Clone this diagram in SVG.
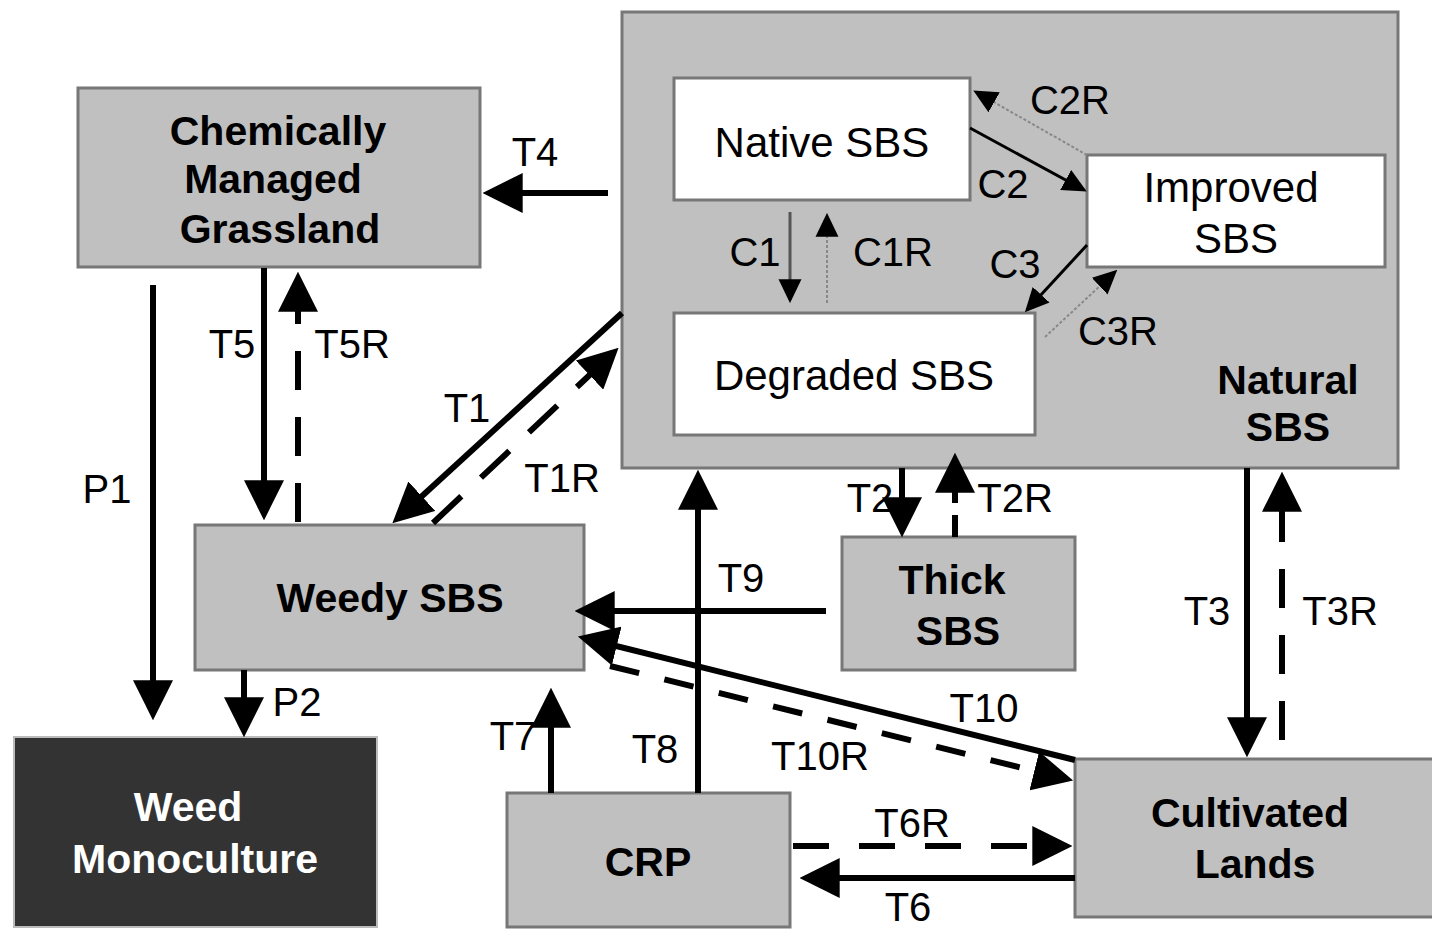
<svg xmlns="http://www.w3.org/2000/svg" width="1432" height="930" viewBox="0 0 1432 930">
<style>
.box{fill:#c0c0c0;stroke:#777;stroke-width:3}
.wbox{fill:#fff;stroke:#777;stroke-width:3}
.dbox{fill:#333;stroke:#bbb;stroke-width:2}
.nt{font-family:"Liberation Sans",Arial,sans-serif;font-size:42px;fill:#000;text-anchor:middle}
.bt{font-family:"Liberation Sans",Arial,sans-serif;font-size:41px;font-weight:bold;fill:#000;text-anchor:middle}
.wt{fill:#fff}
.lb{font-family:"Liberation Sans",Arial,sans-serif;font-size:40px;fill:#000;text-anchor:middle}
.th{stroke:#000;stroke-width:6;fill:none}
.dash{stroke-dasharray:39 27}
.tn{stroke:#000;stroke-width:3;fill:none}
.dot{stroke:#888;stroke-width:2;stroke-dasharray:3 2;fill:none}
</style>
<defs>
<marker id="ah" markerUnits="userSpaceOnUse" markerWidth="40" markerHeight="40" viewBox="0 0 38 38" refX="32" refY="19" orient="auto"><path d="M0,0 L38,19 L0,38 z" fill="#000"/></marker>
<marker id="as" markerUnits="userSpaceOnUse" markerWidth="24" markerHeight="24" viewBox="0 0 23 22" refX="20" refY="11" orient="auto"><path d="M0,0 L23,11 L0,22 z" fill="#000"/></marker>
</defs>

<g id="natural">
<rect class="box" x="622" y="12" width="776" height="456"/>
<text class="bt" x="1288" y="394">Natural</text>
<text class="bt" x="1288" y="441">SBS</text>
</g>
<g id="native"><rect class="wbox" x="674" y="78" width="296" height="122"/><text class="nt" x="822" y="157">Native SBS</text></g>
<g id="improved"><rect class="wbox" x="1087" y="155" width="298" height="112"/><text class="nt" x="1231" y="202">Improved</text><text class="nt" x="1236" y="253">SBS</text></g>
<g id="degraded"><rect class="wbox" x="674" y="313" width="361" height="122"/><text class="nt" x="854" y="390">Degraded SBS</text></g>
<g id="chem"><rect class="box" x="78" y="88" width="402" height="179"/><text class="bt" x="278" y="145">Chemically</text><text class="bt" x="273" y="193">Managed</text><text class="bt" x="280" y="243">Grassland</text></g>
<g id="weedy"><rect class="box" x="195" y="525" width="389" height="145"/><text class="bt" x="390" y="612">Weedy SBS</text></g>
<g id="mono"><rect class="dbox" x="14" y="737" width="363" height="190"/><text class="bt wt" x="188" y="821">Weed</text><text class="bt wt" x="195" y="873">Monoculture</text></g>
<g id="crp"><rect class="box" x="507" y="793" width="283" height="134"/><text class="bt" x="648" y="876">CRP</text></g>
<g id="thick"><rect class="box" x="842" y="537" width="233" height="133"/><text class="bt" x="952" y="594">Thick</text><text class="bt" x="958" y="645">SBS</text></g>
<g id="cult"><rect class="box" x="1075" y="759" width="360" height="158"/><text class="bt" x="1250" y="827">Cultivated</text><text class="bt" x="1255" y="878">Lands</text></g>

<g id="connectors">
<line class="th" x1="608" y1="193" x2="489" y2="193" marker-end="url(#ah)"/>
<line class="th" x1="264" y1="268" x2="264" y2="514" marker-end="url(#ah)"/>
<line class="th dash" x1="298" y1="522" x2="298" y2="278" marker-end="url(#ah)"/>
<line class="th" x1="153" y1="285" x2="153" y2="714" marker-end="url(#ah)"/>
<line class="th" x1="244" y1="670" x2="244" y2="731" marker-end="url(#ah)"/>
<line class="th" x1="622" y1="313" x2="397" y2="519" marker-end="url(#ah)"/>
<line class="th dash" x1="433" y1="523" x2="614" y2="352" marker-end="url(#ah)"/>
<line class="th" x1="826" y1="611" x2="581" y2="611" marker-end="url(#ah)"/>
<line class="th" x1="698" y1="793" x2="698" y2="476" marker-end="url(#ah)"/>
<line class="th" x1="551" y1="793" x2="551" y2="694" marker-end="url(#ah)"/>
<line class="th" x1="902" y1="468" x2="902" y2="531" marker-end="url(#ah)"/>
<line class="th" x1="955" y1="537" x2="955" y2="459" style="stroke-dasharray:22 12" marker-end="url(#ah)"/>
<line class="th" x1="1247" y1="468" x2="1247" y2="751" marker-end="url(#ah)"/>
<line class="th dash" x1="1282" y1="740" x2="1282" y2="478" marker-end="url(#ah)"/>
<line class="th" x1="1075" y1="760" x2="584" y2="638" marker-end="url(#ah)"/>
<line class="th" x1="610" y1="666" x2="1067" y2="779" style="stroke-dasharray:30 26" marker-end="url(#ah)"/>
<line class="th" x1="793" y1="846" x2="1066" y2="846" style="stroke-dasharray:36 30" marker-end="url(#ah)"/>
<line class="th" x1="1075" y1="878" x2="806" y2="878" marker-end="url(#ah)"/>
<line class="dot" x1="1087" y1="155" x2="976" y2="92" marker-end="url(#as)"/>
<line class="tn" x1="970" y1="128" x2="1084" y2="190" marker-end="url(#as)"/>
<line class="tn" x1="790" y1="212" x2="790" y2="300" style="stroke:#555" marker-end="url(#as)"/>
<line class="dot" x1="827" y1="303" x2="827" y2="216" marker-end="url(#as)"/>
<line class="tn" x1="1087" y1="245" x2="1027" y2="310" marker-end="url(#as)"/>
<line class="dot" x1="1045" y1="337" x2="1115" y2="272" marker-end="url(#as)"/>
</g>

<g id="labels">
<text class="lb" x="535" y="166">T4</text>
<text class="lb" x="1070" y="114">C2R</text>
<text class="lb" x="1003" y="198">C2</text>
<text class="lb" x="755" y="266">C1</text>
<text class="lb" x="893" y="266">C1R</text>
<text class="lb" x="1015" y="278">C3</text>
<text class="lb" x="1118" y="345">C3R</text>
<text class="lb" x="232" y="358">T5</text>
<text class="lb" x="352" y="358">T5R</text>
<text class="lb" x="467" y="422">T1</text>
<text class="lb" x="562" y="492">T1R</text>
<text class="lb" x="107" y="503">P1</text>
<text class="lb" x="870" y="512">T2</text>
<text class="lb" x="1015" y="512">T2R</text>
<text class="lb" x="741" y="592">T9</text>
<text class="lb" x="1207" y="625">T3</text>
<text class="lb" x="1340" y="625">T3R</text>
<text class="lb" x="297" y="716">P2</text>
<text class="lb" x="984" y="722">T10</text>
<text class="lb" x="513" y="750">T7</text>
<text class="lb" x="655" y="763">T8</text>
<text class="lb" x="820" y="770">T10R</text>
<text class="lb" x="912" y="837">T6R</text>
<text class="lb" x="908" y="921">T6</text>
</g>
</svg>
